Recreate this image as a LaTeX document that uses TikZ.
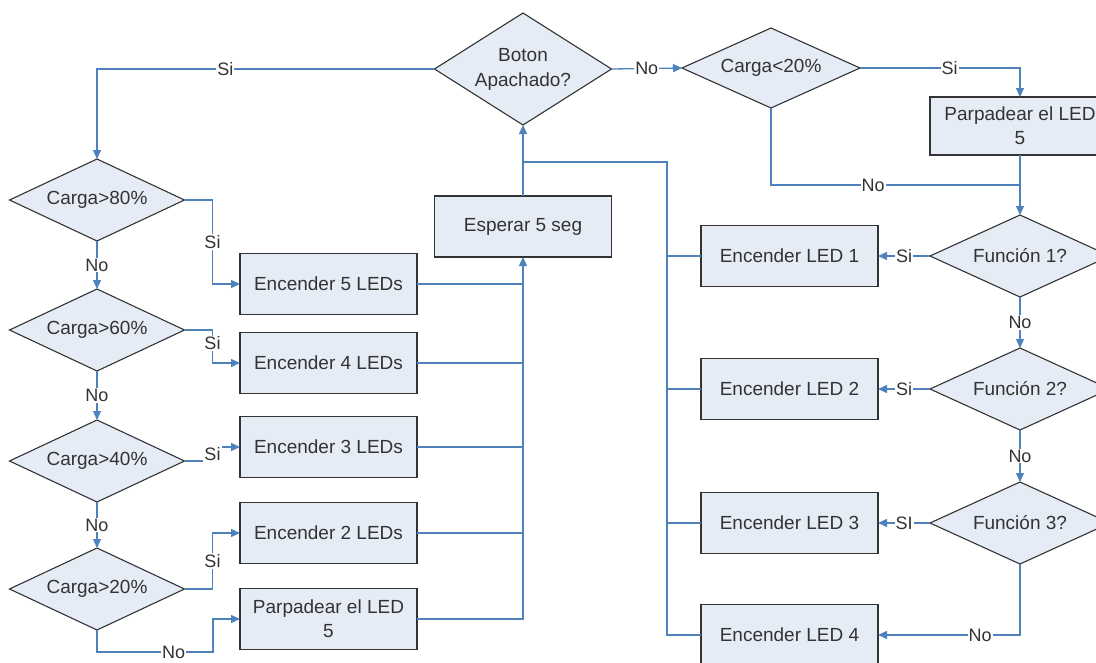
\documentclass[tikz,border=0pt]{standalone}
\usepackage{fontspec}
\setmainfont{Liberation Sans}
\usetikzlibrary{shapes.geometric,arrows.meta}
\definecolor{flow}{RGB}{79,129,189}
\definecolor{boxfill}{RGB}{230,236,246}
\definecolor{ink}{RGB}{51,51,51}
\begin{document}
\begin{tikzpicture}[x=1pt,y=-1pt,
  stepbox/.style={draw=ink, line width=1.3pt, fill=boxfill, minimum width=177pt,
    minimum height=61pt, inner sep=0pt, outer sep=0pt,
    font=\fontsize{19}{24}\selectfont, text=ink, align=center},
  decision/.style={diamond, aspect=2.15, draw=ink, line width=1.1pt, fill=boxfill,
    minimum width=175pt, minimum height=82pt, inner sep=0pt, outer sep=0pt,
    font=\fontsize{19}{25}\selectfont, text=ink, align=center},
  flowline/.style={draw=flow, line width=1.3pt},
  flowarrow/.style={flowline, -{Triangle[length=9pt,width=8pt]}},
  lbl/.style={fill=white, inner sep=1pt, font=\fontsize{18}{20}\selectfont, text=ink}
]
\useasboundingbox (0,0) rectangle (1096,662);
\clip (0,0) rectangle (1096,662);

% main decision and low-charge branch
\node[decision, aspect=1.58, minimum width=177pt, minimum height=112pt] (boton) at (523,69) {Boton\\Apachado?};
\node[decision, minimum width=178pt, minimum height=80pt] (c20) at (771,68) {Carga<20\%};
\node[stepbox, minimum width=180pt, minimum height=58pt] (parpR) at (1020,126) {Parpadear el LED\\5};
\node[stepbox] (esperar) at (523,226.5) {Esperar 5 seg};

% function checks on the right
\node[decision, minimum width=180pt] (f1) at (1020,256) {Función 1?};
\node[decision, minimum width=180pt] (f2) at (1020,389) {Función 2?};
\node[decision, minimum width=180pt] (f3) at (1020,523) {Función 3?};
\node[stepbox] (led1) at (789.5,256) {Encender LED 1};
\node[stepbox] (led2) at (789.5,389) {Encender LED 2};
\node[stepbox] (led3) at (789.5,523) {Encender LED 3};
\node[stepbox] (led4) at (789.5,635) {Encender LED 4};

% charge level checks on the left
\node[decision] (c80) at (97,200) {Carga>80\%};
\node[decision] (c60) at (97,330) {Carga>60\%};
\node[decision] (c40) at (97,461) {Carga>40\%};
\node[decision] (c20b) at (97,589) {Carga>20\%};
\node[stepbox] (e5) at (328.5,284) {Encender 5 LEDs};
\node[stepbox] (e4) at (328.5,363) {Encender 4 LEDs};
\node[stepbox] (e3) at (328.5,447) {Encender 3 LEDs};
\node[stepbox] (e2) at (328.5,533) {Encender 2 LEDs};
\node[stepbox] (parpL) at (328.5,619) {Parpadear el LED\\5};

% junction points of the return buses
\coordinate (busR) at (667,162);
\coordinate (busJ) at (523,162);
\coordinate (j1) at (1020,185);

% top-level connectors
\draw[flowarrow] (boton.west) -| node[lbl,pos=0.31]{Si} (c80.north);
\draw[flowarrow] (boton.east) -- node[lbl,pos=0.5]{No} (c20.west);
\draw[flowarrow] (c20.east) -| node[lbl,pos=0.28]{Si} (parpR.north);
\draw[flowline] (c20.south) |- node[lbl,pos=0.705]{No} (j1);
\draw[flowarrow] (parpR.south) -- (f1.north);
\draw[flowarrow] (esperar.north) -- (boton.south);

% function chain
\draw[flowarrow] (f1.west) -- node[lbl]{Si} (led1.east);
\draw[flowarrow] (f1.south) -- node[lbl]{No} (f2.north);
\draw[flowarrow] (f2.west) -- node[lbl]{Si} (led2.east);
\draw[flowarrow] (f2.south) -- node[lbl]{No} (f3.north);
\draw[flowarrow] (f3.west) -- node[lbl]{SI} (led3.east);
\draw[flowarrow] (f3.south) |- node[lbl,pos=0.64]{No} (led4.east);

% right return bus
\draw[flowline] (led4.west) -| (busR) -- (busJ);
\draw[flowline] (led1.west) -- (led1.west -| busR);
\draw[flowline] (led2.west) -- (led2.west -| busR);
\draw[flowline] (led3.west) -- (led3.west -| busR);

% charge chain
\draw[flowarrow] (c80.south) -- node[lbl]{No} (c60.north);
\draw[flowarrow] (c60.south) -- node[lbl]{No} (c40.north);
\draw[flowarrow] (c40.south) -- node[lbl]{No} (c20b.north);
\draw[flowarrow] (c80.east) -- ++(28,0) |- node[lbl,pos=0.25]{Si} (e5.west);
\draw[flowarrow] (c60.east) -- ++(28,0) |- node[lbl,pos=0.2]{Si} (e4.west);
\draw[flowarrow] (c40.east) -- ++(28,0) |- node[lbl,pos=0.25]{Si} (e3.west);
\draw[flowarrow] (c20b.east) -- ++(28,0) |- node[lbl,pos=0.25]{Si} (e2.west);
\draw[flowarrow] (c20b.south) -- ++(0,22) -- node[lbl,pos=0.66]{No} ++(116,0) |- (parpL.west);

% left return bus
\draw[flowarrow] (parpL.east) -| (esperar.south);
\draw[flowline] (e5.east) -- (e5.east -| esperar.south);
\draw[flowline] (e4.east) -- (e4.east -| esperar.south);
\draw[flowline] (e3.east) -- (e3.east -| esperar.south);
\draw[flowline] (e2.east) -- (e2.east -| esperar.south);
\end{tikzpicture}
\end{document}
